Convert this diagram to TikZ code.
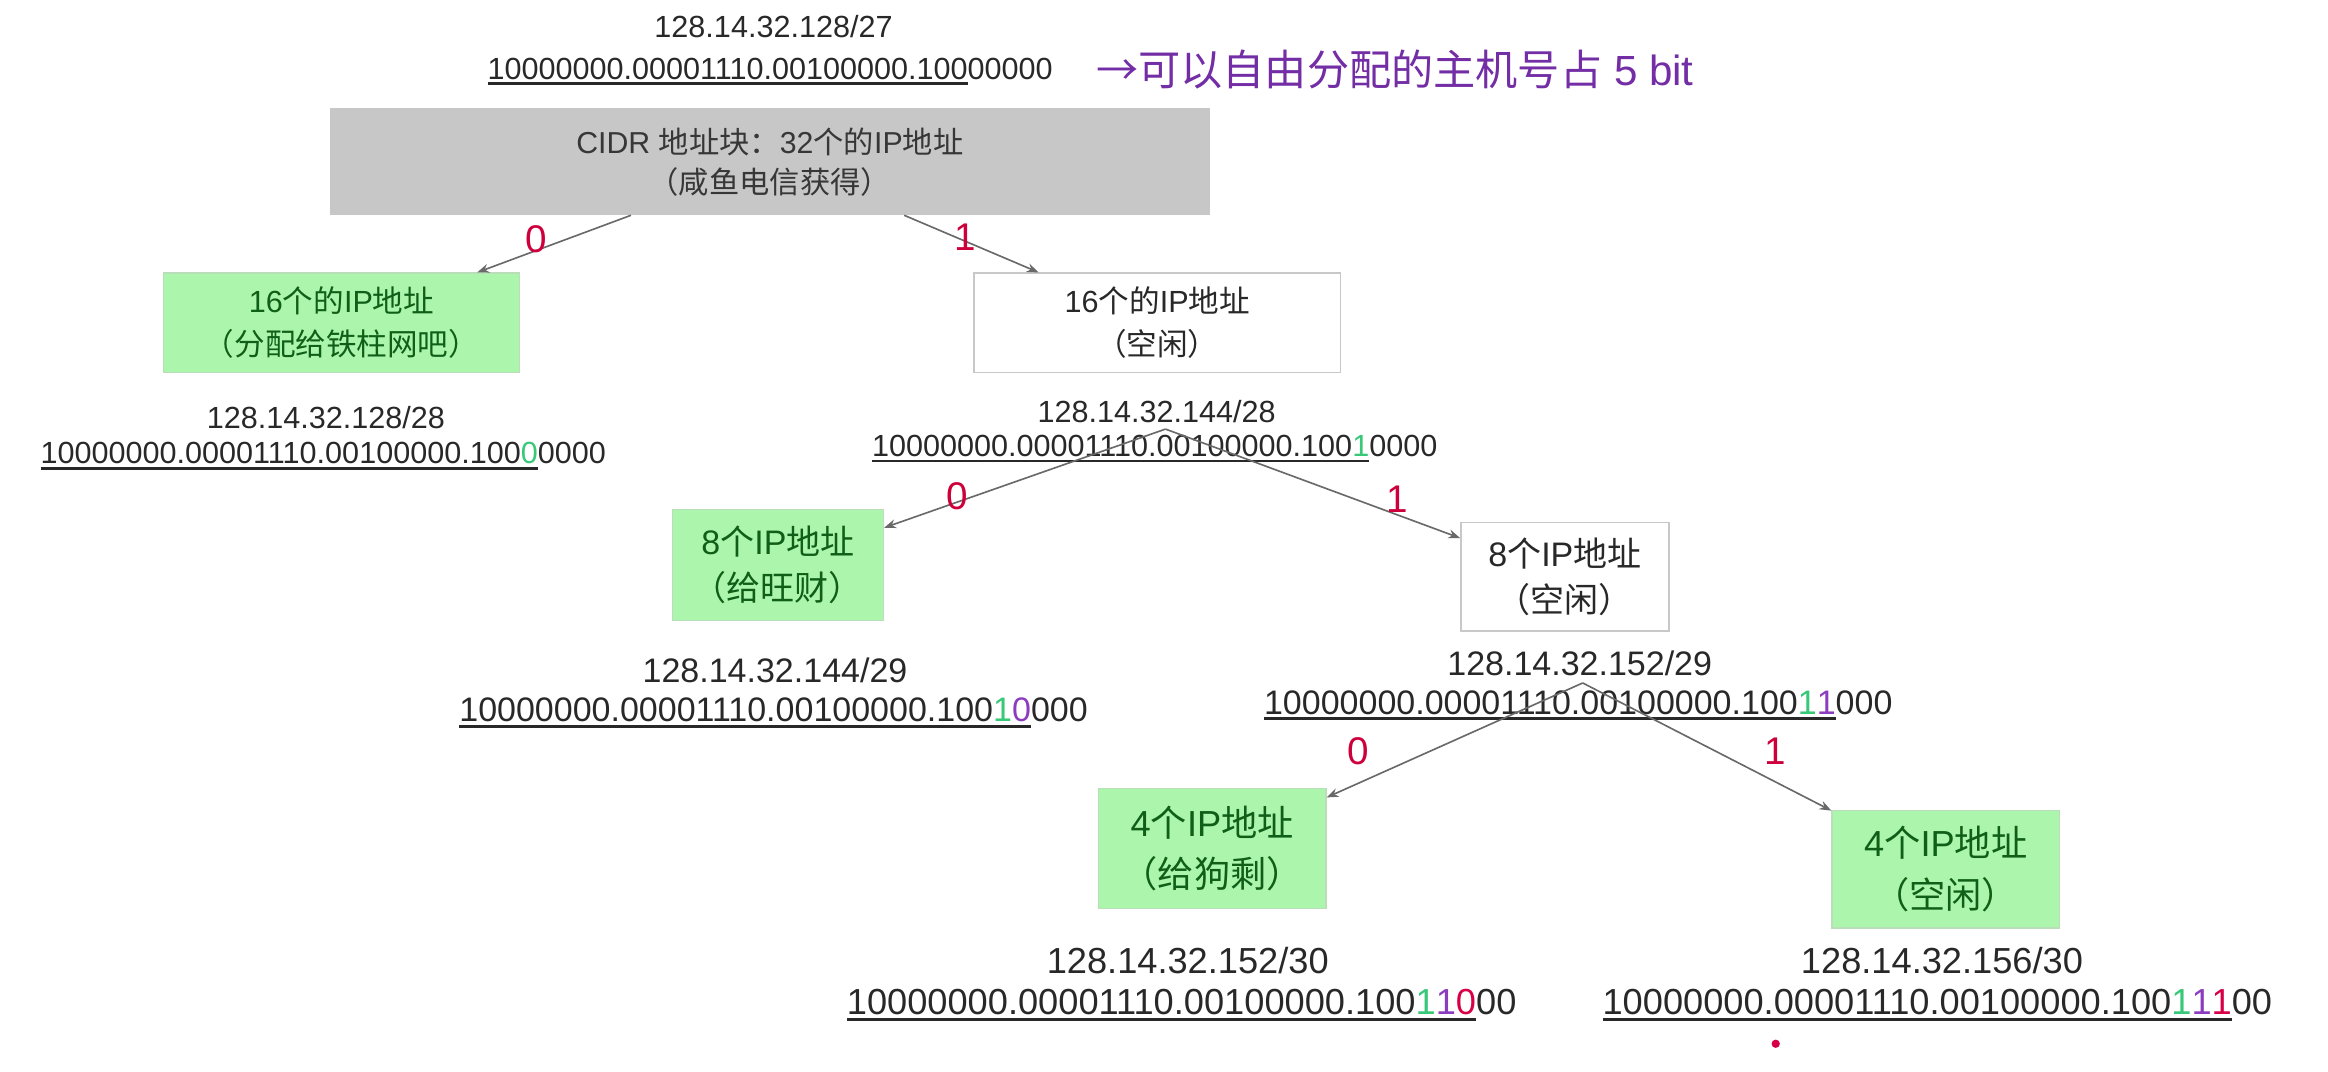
\documentclass[tikz,border=0pt]{standalone}
\usepackage{fontspec}
\setmainfont{Liberation Sans}
\newfontfamily\cjk{Noto Sans CJK SC}
\newfontfamily\cjkh[RawFeature=+halt]{Noto Sans CJK SC}
\usetikzlibrary{arrows.meta}
\definecolor{txt}{RGB}{40,40,40}
\definecolor{roottxt}{RGB}{55,55,55}
\definecolor{boxgray}{RGB}{199,199,199}
\definecolor{grfill}{RGB}{172,245,172}
\definecolor{grtext}{RGB}{15,95,25}
\definecolor{grline}{RGB}{185,222,185}
\definecolor{wline}{RGB}{200,200,200}
\definecolor{edgec}{RGB}{105,105,105}
\definecolor{lblred}{RGB}{205,0,60}
\definecolor{bgreen}{RGB}{55,200,120}
\definecolor{bpurple}{RGB}{140,60,190}
\definecolor{bred}{RGB}{215,0,70}
\definecolor{notec}{RGB}{115,45,165}
\newcommand\zh[1]{{\cjk #1}}
\newcommand\zp[1]{{\cjkh #1}}
\newcommand\ul[1]{\setbox0=\hbox{#1}\rlap{\rule[-2pt]{\wd0}{1pt}}\box0\relax}
\newcommand\pre{10000000.00001110.00100000.100}
\newcommand\G[1]{\textcolor{bgreen}{#1}}
\newcommand\Pu[1]{\textcolor{bpurple}{#1}}
\newcommand\Rd[1]{\textcolor{bred}{#1}}
\newcommand\fa{\fontsize{10.3}{14.5}\selectfont}
\newcommand\fb{\fontsize{11.45}{15.5}\selectfont}
\newcommand\fc{\fontsize{12.2}{17.5}\selectfont}
\begin{document}
\begin{tikzpicture}[x=0.5pt,y=-0.5pt,
  every node/.style={text=txt},
  iptext/.style={inner sep=0, anchor=base},
  bintext/.style={inner sep=0, anchor=base west},
  box/.style={draw, line width=0.5pt, align=center, inner sep=0},
  grbox/.style={box, fill=grfill, draw=grline, text=grtext},
  whbox/.style={box, fill=white, draw=wline},
  edge/.style={draw=edgec, line width=0.55pt, -{Stealth[length=4pt,width=3pt]}},
  lbl/.style={text=lblred, font=\fontsize{13}{13}\selectfont, inner sep=0}]
\useasboundingbox (0,0) rectangle (1568,722);

% top
\node[iptext, font=\fa] (ip27) at (521,25.4) {128.14.32.128/27};
\node[bintext, font=\fa] (bin27) at (328,53.4) {\ul{\pre}00000};
\node[inner sep=0, anchor=base west, text=notec, font=\fontsize{14.2}{14.2}\selectfont] (note) at (738,57.5) {\zh{→可以自由分配的主机号占} 5 bit};

\node[box, draw=none, fill=boxgray, text=roottxt, font=\fontsize{10.2}{13.5}\selectfont,
  minimum width=296.5pt, minimum height=36pt] (root) at (518.5,109)
  {CIDR \zh{地址块：}32\zh{个的}IP\zh{地址}\\\zp{（咸鱼电信获得）}};

% level 1
\node[grbox, font=\fa, minimum width=120pt, minimum height=33.5pt] (b16a) at (230,217.5)
  {16\zh{个的}IP\zh{地址}\\\zp{（分配给铁柱网吧）}};
\node[whbox, font=\fa, minimum width=123.5pt, minimum height=33.5pt] (b16b) at (779.5,217.5)
  {16\zh{个的}IP\zh{地址}\\\zp{（空闲）}};

\node[iptext, font=\fa] (ip28a) at (219.5,288.4) {128.14.32.128/28};
\node[bintext, font=\fa] (bin28a) at (27,312.5) {\ul{\pre\G{0}}0000};
\node[iptext, font=\fa] (ip28b) at (779,284.4) {128.14.32.144/28};
\node[bintext, font=\fa] (bin28b) at (587,307.5) {\ul{\pre\G{1}}0000};

% level 2
\node[grbox, font=\fb, minimum width=71pt, minimum height=37.5pt] (b8a) at (524,380.5)
  {8\zh{个}IP\zh{地址}\\\zp{（给旺财）}};
\node[whbox, font=\fb, minimum width=70pt, minimum height=36.5pt] (b8b) at (1054,388.5)
  {8\zh{个}IP\zh{地址}\\\zp{（空闲）}};

\node[iptext, font=\fb] (ip29a) at (522,460) {128.14.32.144/29};
\node[bintext, font=\fb] (bin29a) at (309,486) {\ul{\pre\G{1}\Pu{0}}000};
\node[iptext, font=\fb] (ip29b) at (1064,455) {128.14.32.152/29};
\node[bintext, font=\fb] (bin29b) at (851,481) {\ul{\pre\G{1}\Pu{1}}000};

% level 3
\node[grbox, font=\fc, minimum width=76.5pt, minimum height=40.5pt] (b4a) at (816.5,571.5)
  {4\zh{个}IP\zh{地址}\\\zp{（给狗剩）}};
\node[grbox, font=\fc, minimum width=76.5pt, minimum height=39.5pt] (b4b) at (1310.5,585.5)
  {4\zh{个}IP\zh{地址}\\\zp{（空闲）}};

\node[iptext, font=\fc] (ip30a) at (800,655.5) {128.14.32.152/30};
\node[bintext, font=\fc] (bin30a) at (570,683.5) {\ul{\pre\G{1}\Pu{1}\Rd{0}}00};
\node[iptext, font=\fc] (ip30b) at (1308,655.5) {128.14.32.156/30};
\node[bintext, font=\fc] (bin30b) at (1079,683.5) {\ul{\pre\G{1}\Pu{1}\Rd{1}}00};

\node[circle, fill=bred, inner sep=0, minimum size=2.8pt] (dot) at (1196,703) {};

% connectors
\coordinate (r0) at (425,145);
\coordinate (r1) at (609,145);
\coordinate (a28) at (785,289);
\coordinate (a29) at (1066,460);
\draw[edge] (r0) -- (b16a);
\draw[edge] (r1) -- (b16b);
\draw[edge] (a28) -- (b8a);
\draw[edge] (a28) -- (b8b);
\draw[edge] (a29) -- (b4a);
\draw[edge] (a29) -- (b4b);

\node[lbl] (l0a) at (361,161) {0};
\node[lbl] (l1a) at (650,160) {1};
\node[lbl] (l0b) at (645,334) {0};
\node[lbl] (l1b) at (941,336) {1};
\node[lbl] (l0c) at (915,506) {0};
\node[lbl] (l1c) at (1196,506) {1};
\end{tikzpicture}
\end{document}
